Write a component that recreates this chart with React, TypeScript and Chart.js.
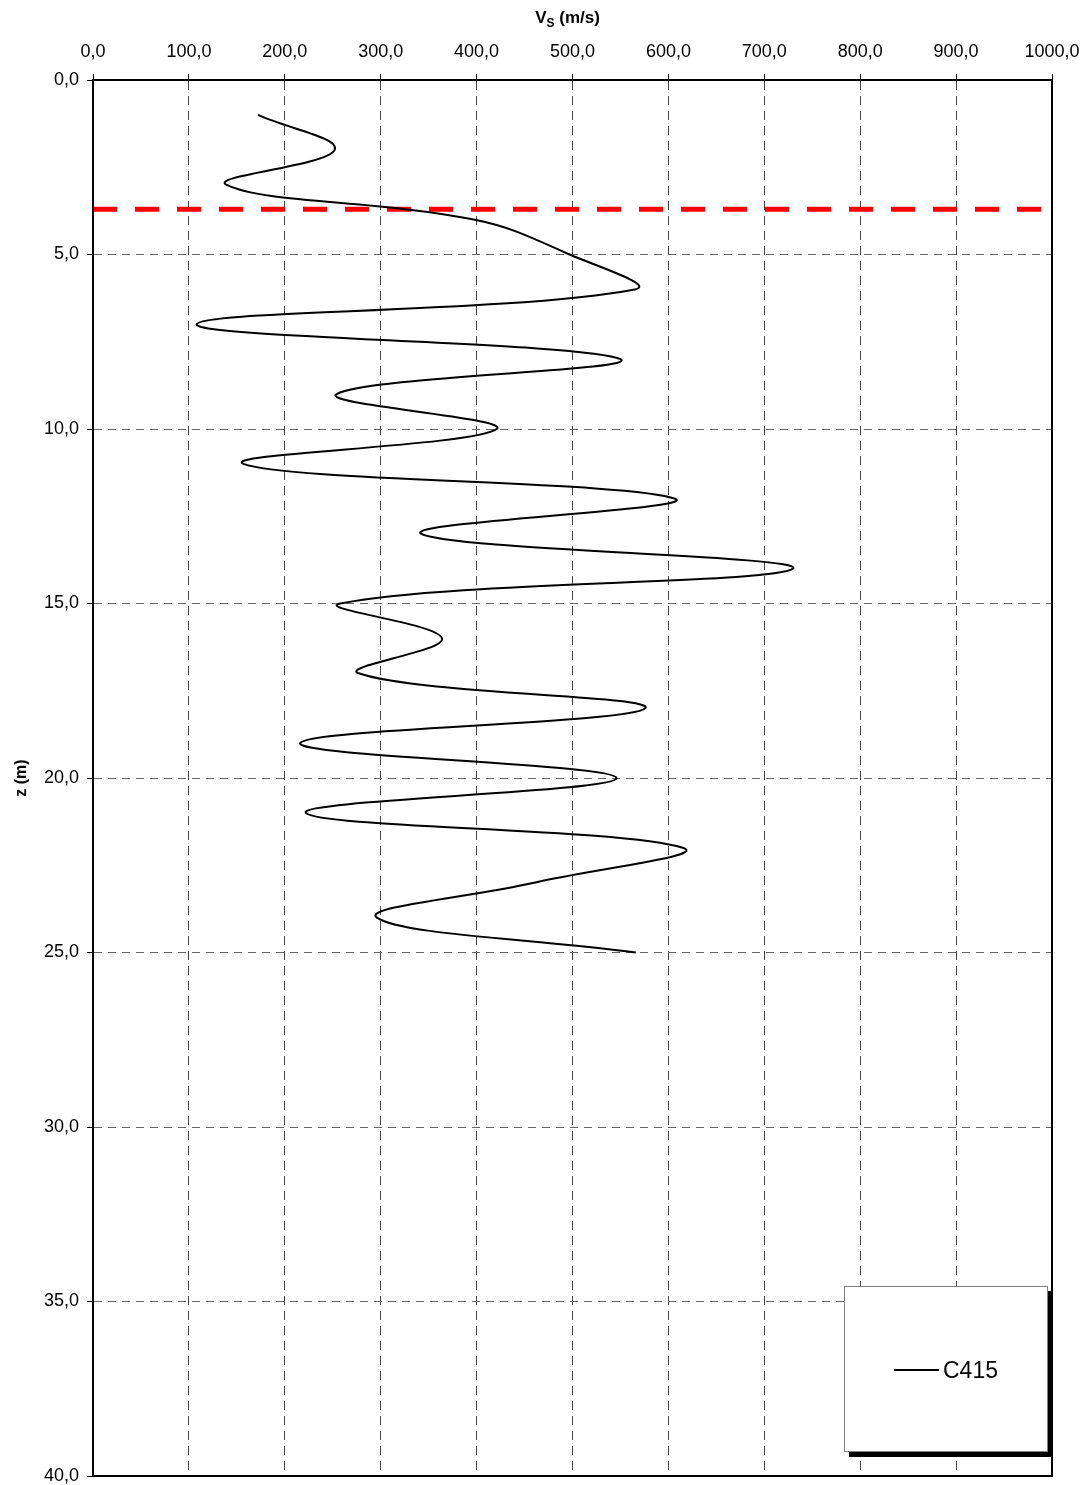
import React, { useEffect, useRef } from 'react';
import { Chart, registerables } from 'chart.js';

Chart.register(...registerables);

// C415 shear-wave velocity profile (depth in m, Vs in m/s)
const depths = [1, 2, 3, 4, 5, 6, 7, 8, 9, 10, 11, 12, 13, 14, 15, 16, 17, 18, 19, 20, 21, 22, 23, 24, 25];
const vsValues = [172, 252, 139, 397, 497, 565, 108, 550, 254, 421, 157, 607, 342, 730, 258, 364, 277, 576, 216, 546, 222, 615, 460, 296, 566];
const seriesName = 'C415';

// red dashed reference level (water table)
const levelDepth = 3.7;
const levelSpan = [0, 1000];

const FONT = '"Liberation Sans", Arial, sans-serif';

const fmt = (v: number | string) => Number(v).toFixed(1).replace('.', ',');

const framePlugin = {
  id: 'frame',
  afterDraw(chart: Chart) {
    const { ctx, chartArea: a } = chart;
    ctx.save();
    ctx.strokeStyle = '#000';
    ctx.lineWidth = 2;
    ctx.strokeRect(a.left, a.top, a.right - a.left, a.bottom - a.top);
    ctx.restore();
  },
};

const App: React.FC = () => {
  const canvasRef = useRef<HTMLCanvasElement>(null);

  useEffect(() => {
    if (!canvasRef.current) return;
    const chart = new Chart(canvasRef.current, {
      type: 'scatter',
      data: {
        datasets: [
          {
            label: seriesName,
            data: depths.map((z, i) => ({ x: vsValues[i], y: z })),
            showLine: true,
            borderColor: '#000',
            borderWidth: 2,
            tension: 0.4,
            pointRadius: 0,
          },
          {
            label: 'level',
            data: levelSpan.map((x) => ({ x, y: levelDepth })),
            showLine: true,
            borderColor: '#ff0000',
            borderWidth: 5,
            borderDash: [24, 18],
            pointRadius: 0,
          },
        ],
      },
      options: {
        responsive: false,
        maintainAspectRatio: false,
        animation: false,
        events: [],
        layout: { padding: { left: 0, top: 0, right: 36, bottom: 9 } },
        plugins: {
          legend: { display: false },
          tooltip: { enabled: false },
        },
        scales: {
          x: {
            type: 'linear',
            position: 'top',
            min: 0,
            max: 1000,
            afterFit: (s: any) => {
              s.height = 80;
              s.paddingRight = 0;
              s.paddingLeft = 0;
            },
            ticks: {
              stepSize: 100,
              padding: 11,
              color: '#000',
              font: { family: FONT, size: 18 },
              callback: (v: any) => fmt(v),
            },
            grid: {
              color: '#444',
              lineWidth: 1,
              tickLength: 6,
              tickColor: '#000',
            },
            border: { display: true, color: '#000', width: 2, dash: [9, 6] },
          },
          y: {
            type: 'linear',
            reverse: true,
            min: 0,
            max: 40,
            afterFit: (s: any) => {
              s.width = 93;
              s.paddingTop = 0;
              s.paddingBottom = 0;
            },
            title: {
              display: true,
              text: 'z (m)',
              color: '#000',
              font: { family: FONT, size: 16, weight: 'bold' },
              padding: { top: 12, bottom: 4 },
            },
            ticks: {
              stepSize: 5,
              padding: 8,
              color: '#000',
              font: { family: FONT, size: 18 },
              callback: (v: any) => fmt(v),
            },
            grid: {
              color: '#666',
              lineWidth: 1,
              tickLength: 6,
              tickColor: '#000',
            },
            border: { display: true, color: '#000', width: 2, dash: [8, 6] },
          },
        },
      },
      plugins: [framePlugin],
    });
    return () => {
      chart.destroy();
    };
  }, []);

  return (
    <div style={{ position: 'absolute', left: 0, top: 0, width: 1088, height: 1485, background: '#fff', fontFamily: FONT }}>
      <canvas ref={canvasRef} width={1088} height={1485} style={{ display: 'block' }} />
      <div
        style={{
          position: 'absolute',
          left: 88,
          width: 959,
          top: 8,
          textAlign: 'center',
          fontWeight: 'bold',
          fontSize: 17,
          lineHeight: '20px',
        }}
      >
        V<span style={{ fontSize: 12, position: 'relative', top: 4 }}>S</span> (m/s)
      </div>
      <div
        style={{
          position: 'absolute',
          left: 844,
          top: 1286,
          width: 202,
          height: 164,
          background: '#fff',
          border: '1px solid #808080',
          boxShadow: '5px 5px 0 #000',
        }}
      >
        <div style={{ position: 'absolute', left: 49, top: 82, width: 45, height: 2, background: '#000' }} />
        <div style={{ position: 'absolute', left: 98, top: 69, fontSize: 23, lineHeight: '28px', color: '#000' }}>
          {seriesName}
        </div>
      </div>
    </div>
  );
};

export default App;
